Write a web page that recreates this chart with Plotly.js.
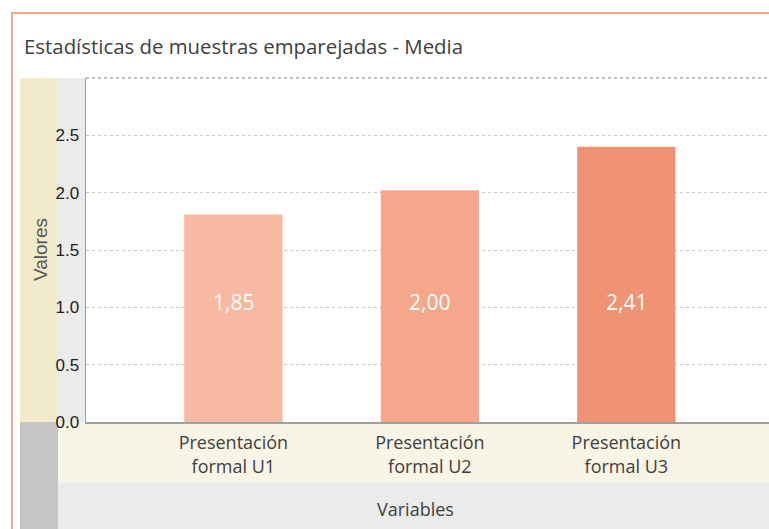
<!DOCTYPE html>
<html>
<head>
<meta charset="utf-8">
<script src="https://cdn.plot.ly/plotly-3.0.1.min.js"></script>
<style>html,body{margin:0;padding:0;background:#fff;}#chart{width:769px;height:529px;}</style>
</head>
<body>
<div id="chart"></div>
<script>
// ---- data ----
const categories = ["Presentación formal U1", "Presentación formal U2", "Presentación formal U3"];
const tickLabels = ["Presentación<br>formal U1", "Presentación<br>formal U2", "Presentación<br>formal U3"];
const barHeights = [1.81, 2.02, 2.40];
const valueLabels = ["1,85", "2,00", "2,41"];
const barColors = ["#F7B9A2", "#F4A78B", "#F09375"];
const yTickVals = [0, 0.5, 1.0, 1.5, 2.0, 2.5];
const yTickText = ["0.0", "0.5", "1.0", "1.5", "2.0", "2.5"];

// ---- layout geometry (pixels) ----
const W = 769, H = 529;
const L = 86, T = 78, B = 422, R = 769;
const pw = R - L, ph = B - T;
const px = x => (x - L) / pw;
const py = y => (B - y) / ph;

function rect(x0, y0, x1, y1, color, layer) {
  return {type: "rect", xref: "paper", yref: "paper",
    x0: px(x0), x1: px(x1), y0: py(y1), y1: py(y0),
    fillcolor: color, line: {width: 0}, layer: layer || "below"};
}

const shapes = [
  rect(20, 78, 58, 422, "#F1EBCB"),
  rect(58, 78, 86, 422, "#EBEBEB"),
  rect(20, 422, 58, 529, "#C6C6C6"),
  rect(58, 422, 769, 483, "#F8F5E6"),
  rect(58, 483, 769, 529, "#EBEBEB"),
  // outer border (continues beyond right and bottom edges)
  {type: "rect", xref: "paper", yref: "paper", x0: px(12), x1: px(790), y0: py(560), y1: py(13),
   line: {color: "#F4A68A", width: 2}, fillcolor: "rgba(0,0,0,0)", layer: "below"},
  // top plot border (dotted)
  {type: "line", xref: "paper", yref: "paper", x0: 0, x1: 1, y0: 1, y1: 1,
   line: {color: "#ABABAB", width: 1.5, dash: "dot"}, layer: "above"}
];

const annotations = categories.map((c, i) => ({
  x: c, y: 1.05, xref: "x", yref: "y", text: valueLabels[i], showarrow: false,
  xanchor: "center", yanchor: "middle",
  font: {family: "Open Sans, sans-serif", size: 21, color: "#FFFFFF"}
}));
annotations.push({
  xref: "paper", yref: "paper", x: px(415), y: py(509), text: "Variables", showarrow: false,
  xanchor: "center", yanchor: "middle",
  font: {family: "Open Sans, sans-serif", size: 18, color: "#404040"}
});
annotations.push({
  xref: "paper", yref: "paper", x: px(40), y: py(250), text: "Valores", showarrow: false, textangle: -90,
  xanchor: "center", yanchor: "middle",
  font: {family: "Liberation Sans, Arial, sans-serif", size: 19, color: "#555555"}
});

const trace = {
  type: "bar",
  x: categories,
  y: barHeights,
  width: 0.5,
  marker: {color: barColors, line: {width: 0}},
  hoverinfo: "skip"
};

const layout = {
  width: W, height: H,
  margin: {l: L, r: W - R, t: T, b: H - B, pad: 0},
  paper_bgcolor: "#FFFFFF",
  plot_bgcolor: "#FFFFFF",
  showlegend: false,
  title: {text: "Estadísticas de muestras emparejadas - Media", x: 24 / W, xref: "container", xanchor: "left",
    y: 1 - 47 / H, yref: "container", yanchor: "middle",
    font: {family: "Open Sans, sans-serif", size: 20.4, color: "#404040"}},
  xaxis: {
    type: "category",
    range: [-0.75, 2.726],
    tickvals: categories, ticktext: tickLabels,
    tickfont: {family: "Open Sans, sans-serif", size: 18, color: "#404040"},
    showgrid: false, zeroline: false,
    showline: true, linecolor: "#A0A0A0", linewidth: 1.5,
    ticks: "", ticklabelstandoff: 4
  },
  yaxis: {
    range: [0, 3.0],
    tickvals: yTickVals, ticktext: yTickText,
    tickfont: {family: "Liberation Sans, Arial, sans-serif", size: 17, color: "#222222"},
    showgrid: true, gridcolor: "#C8C8C8", griddash: "dot", gridwidth: 1,
    zeroline: false,
    showline: true, linecolor: "#A0A0A0", linewidth: 1.5,
    ticks: "", ticklabelstandoff: 2
  },
  shapes: shapes,
  annotations: annotations,
  bargap: 0.5
};

Plotly.newPlot("chart", [trace], layout, {displayModeBar: false, staticPlot: true});
</script>
</body>
</html>
